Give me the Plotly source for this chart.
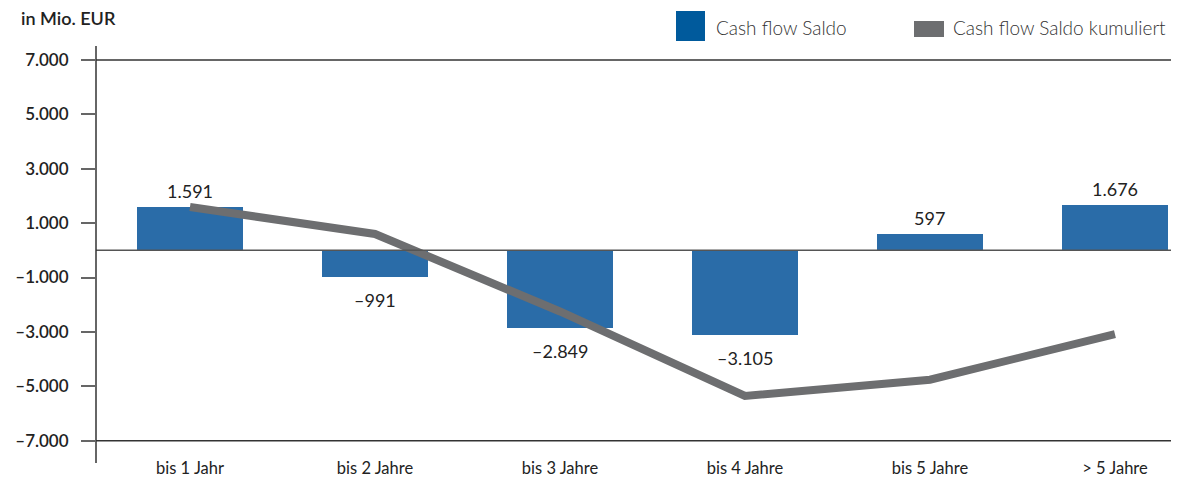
import plotly.graph_objects as go

categories = ["bis 1 Jahr", "bis 2 Jahre", "bis 3 Jahre", "bis 4 Jahre", "bis 5 Jahre", "> 5 Jahre"]
saldo = [1591, -991, -2849, -3105, 597, 1676]
kumuliert = [1591, 600, -2249, -5354, -4757, -3081]
y_ticks = [-7000, -5000, -3000, -1000, 1000, 3000, 5000, 7000]

BAR_COLOR = "#2a6ca8"
LEG_BLUE = "#005a9c"
LINE_COLOR = "#6d6e70"
TEXT = "#222222"
FONT = "Lato"

def de_fmt(v):
    s = f"{abs(v):,}".replace(",", ".")
    return ("\u2013" + s) if v < 0 else s

OFF = 8  # default page body margin
SW, SH = 1179, 478
W, H = SW - OFF, SH - OFF
L, R, T, B = 96 - OFF, 3, 46 - OFF, 26
PW, PH = W - L - R, H - T - B

def px(xs_):
    return (xs_ - OFF - L) / PW

def py(ys_):
    return (H - B - (ys_ - OFF)) / PH

xs = list(range(len(categories)))

fig = go.Figure()
fig.add_trace(go.Bar(x=xs, y=saldo, width=0.573, marker=dict(color=BAR_COLOR, line=dict(width=0)),
                     name="Cash flow Saldo", showlegend=False))
fig.add_trace(go.Scatter(x=xs, y=kumuliert, mode="lines", line=dict(color=LINE_COLOR, width=8),
                         name="Cash flow Saldo kumuliert", showlegend=False))

annotations = []
for i, v in enumerate(saldo):
    annotations.append(dict(x=i, y=v, xref="x", yref="y", text=de_fmt(v), showarrow=False,
                            yshift=16 if v > 0 else -23,
                            font=dict(family=FONT, size=18, color=TEXT)))

annotations.append(dict(x=px(19), y=py(18), xref="paper", yref="paper", xanchor="left", yanchor="middle",
                        text="in Mio. EUR", showarrow=False,
                        font=dict(family=FONT, size=18, color=TEXT, weight=600)))
annotations.append(dict(x=px(714), y=py(28), xref="paper", yref="paper", xanchor="left", yanchor="middle",
                        text="Cash flow Saldo", showarrow=False,
                        font=dict(family=FONT, size=19, color="#333333", weight=300)))
annotations.append(dict(x=px(951), y=py(28), xref="paper", yref="paper", xanchor="left", yanchor="middle",
                        text="Cash flow Saldo kumuliert", showarrow=False,
                        font=dict(family=FONT, size=19, color="#333333", weight=300)))

shapes = [
    dict(type="line", xref="paper", yref="y", x0=0, x1=1, y0=7000, y1=7000, line=dict(color="#333333", width=1.5)),
    dict(type="line", xref="paper", yref="y", x0=0, x1=1, y0=-7000, y1=-7000, line=dict(color="#333333", width=1.5)),
    dict(type="line", xref="paper", yref="y", x0=0, x1=1, y0=0, y1=0, line=dict(color="#555555", width=1.5)),
    dict(type="line", xref="paper", yref="paper", x0=0, x1=0, y0=py(463), y1=1, line=dict(color="#333333", width=1.5)),
    dict(type="rect", xref="paper", yref="paper", x0=px(676), x1=px(705), y0=py(41), y1=py(11),
         fillcolor=LEG_BLUE, line=dict(width=0)),
    dict(type="rect", xref="paper", yref="paper", x0=px(914), x1=px(944), y0=py(37), y1=py(21),
         fillcolor=LINE_COLOR, line=dict(width=0)),
]

fig.update_layout(
    width=W, height=H,
    margin=dict(l=L, r=R, t=T, b=B, autoexpand=False),
    paper_bgcolor="white", plot_bgcolor="white",
    font=dict(family=FONT, color=TEXT),
    showlegend=False,
    bargap=0,
    annotations=annotations,
    shapes=shapes,
    xaxis=dict(range=[-0.508, 5.33], tickvals=xs, ticktext=categories, showgrid=False, zeroline=False,
               showline=False, ticks="", automargin=False, ticklabelstandoff=4,
               tickfont=dict(family=FONT, size=16.5, color=TEXT, weight=400),
               fixedrange=True),
    yaxis=dict(range=[-7415, 7511], tickvals=y_ticks, ticktext=[de_fmt(v) for v in y_ticks],
               showgrid=False, zeroline=False, showline=False, ticks="outside", ticklen=14,
               tickcolor="#666666", tickwidth=1.5, ticklabelstandoff=9, automargin=False,
               tickfont=dict(family=FONT, size=17, color=TEXT, weight=600), fixedrange=True),
)

fig.write_html("out.html")
